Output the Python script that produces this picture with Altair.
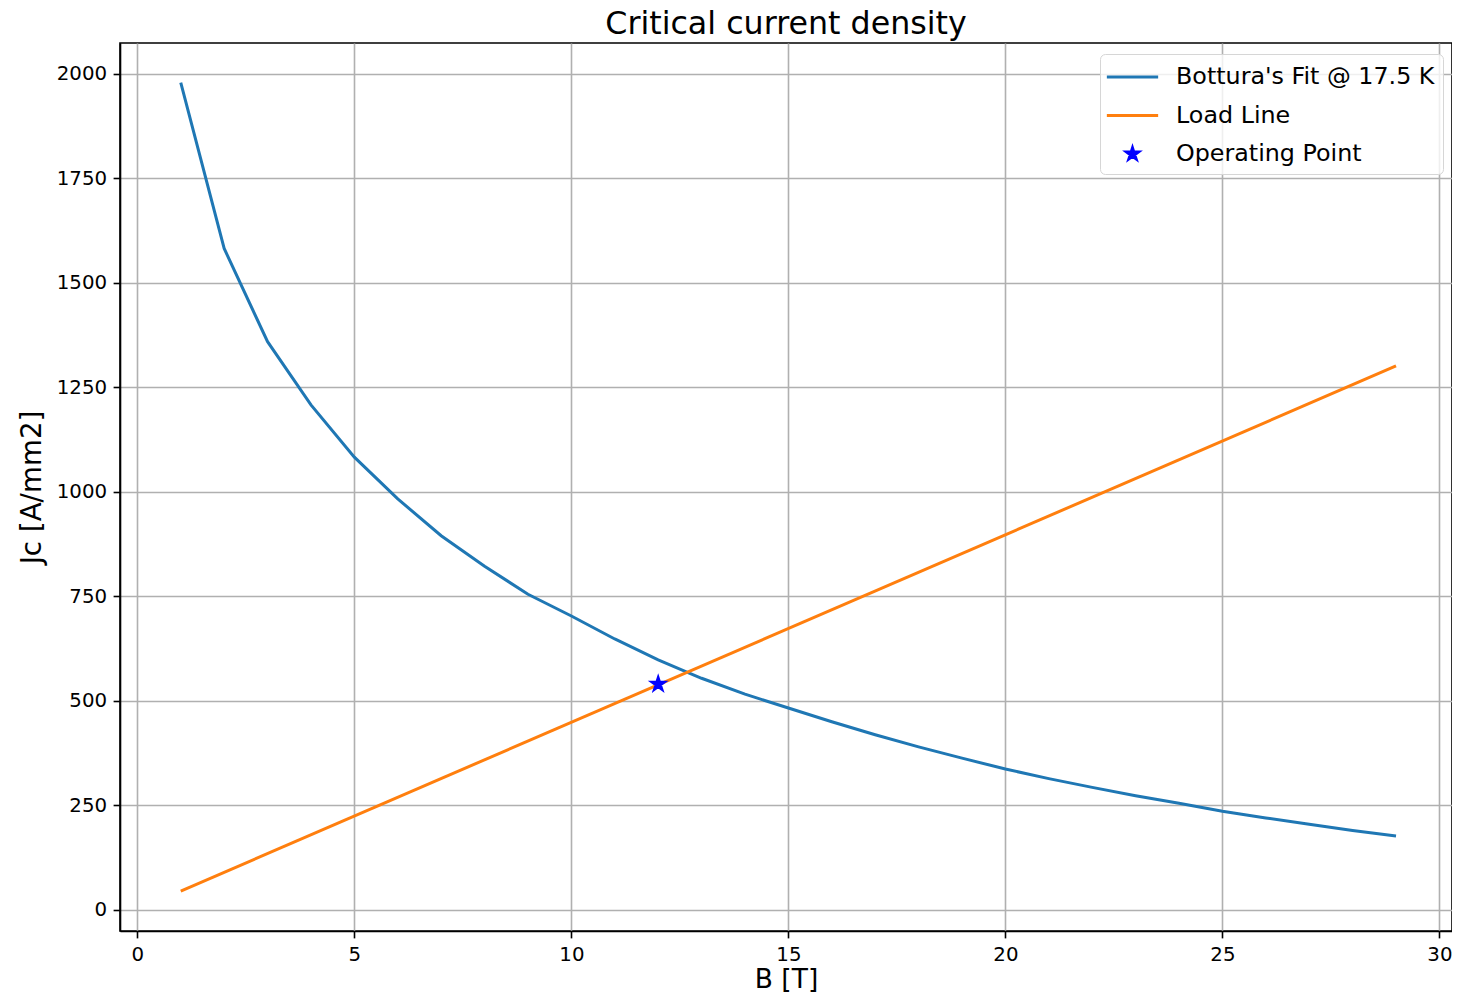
import altair as alt
import pandas as pd

# ---- data ----
fit_B = [1, 2, 3, 4, 5, 6, 7, 8, 9, 10, 11, 12, 13, 14, 15,
         16, 17, 18, 19, 20, 21, 22, 23, 24, 25, 26, 27, 28, 29]
fit_J = [1979, 1582, 1359, 1208, 1083, 983, 895, 822, 755, 703, 648, 598, 554, 516, 483,
         450, 419, 390, 363, 337, 314, 293, 273, 255, 236, 220, 205, 190, 177]
load_B = [1, 29]
load_J = [45, 1301]
op_B = [12]
op_J = [540]

series_names = ["Bottura's Fit @ 17.5 K", "Load Line", "Operating Point"]
series_colors = ["#1f77b4", "#ff7f0e", "#0000ff"]
x_ticks = [0, 5, 10, 15, 20, 25, 30]
y_ticks = [0, 250, 500, 750, 1000, 1250, 1500, 1750, 2000]
x_domain = [-0.4, 30.29]
y_domain = [-50.5, 2073.5]

# legend / marker glyphs (unit paths, scaled by the symbol size)
LINE = "M-1.9,0L1.9,0"
STAR = ("M0,-0.45L0.101,-0.139L0.428,-0.139L0.1635,0.0531L0.2646,0.3641"
        "L0,0.1719L-0.2646,0.3641L-0.1635,0.0531L-0.428,-0.139L-0.101,-0.139Z")

FONT = "DejaVu Sans"

fit_df = pd.DataFrame({"B": fit_B, "J": fit_J, "series": series_names[0]})
load_df = pd.DataFrame({"B": load_B, "J": load_J, "series": series_names[1]})
op_df = pd.DataFrame({"B": op_B, "J": op_J, "series": series_names[2]})

x_enc = alt.X("B:Q",
              scale=alt.Scale(domain=x_domain, nice=False, zero=False),
              axis=alt.Axis(title="B [T]", values=x_ticks, format="d",
                            titlePadding=2, titleFontSize=26.5, labelFlush=False))
y_enc = alt.Y("J:Q",
              scale=alt.Scale(domain=y_domain, nice=False, zero=False),
              axis=alt.Axis(title="Jc [A/mm2]", values=y_ticks, format="d",
                            titlePadding=10, labelFlush=False))

legend = alt.Legend(
    title=None, orient="none", legendX=980, legendY=11,
    padding=8, rowPadding=11.5, labelOffset=28.5, symbolOffset=9.5,
    labelFont=FONT, labelFontSize=23.8, labelColor="black", labelLimit=500,
    symbolSize=729, symbolStrokeWidth=3, symbolOpacity=1,
    fillColor="rgba(255,255,255,0.8)", strokeColor="#d6d6d6", cornerRadius=5,
)

color_enc = alt.Color("series:N",
                      scale=alt.Scale(domain=series_names, range=series_colors),
                      legend=legend)

fit_line = alt.Chart(fit_df).mark_line(strokeWidth=3).encode(
    x=x_enc, y=y_enc, color=color_enc)
load_line = alt.Chart(load_df).mark_line(strokeWidth=3).encode(
    x=x_enc, y=y_enc, color=color_enc)

op_point = alt.Chart(op_df).mark_point(
    size=729, opacity=1, filled=True, stroke=series_colors[2], strokeWidth=3
).encode(
    x=x_enc, y=y_enc,
    color=color_enc,
    shape=alt.Shape("series:N",
                    scale=alt.Scale(domain=series_names, range=[LINE, LINE, STAR]),
                    legend=legend),
)

chart = alt.layer(fit_line, load_line, op_point).properties(
    width=1332, height=888,
    padding={"left": 112, "top": 35, "right": 0, "bottom": 64},
    autosize=alt.AutoSizeParams(type="none"),
    title=alt.TitleParams(text="Critical current density", font=FONT, fontSize=31.7,
                          fontWeight="normal", color="black", anchor="middle",
                          frame="group", offset=2.5),
).configure_view(
    stroke="black", strokeWidth=1.6
).configure_axis(
    grid=True, gridColor="#b0b0b0", gridWidth=1.6,
    domainColor="black", domainWidth=1.6,
    tickColor="black", tickWidth=1.6, tickSize=6.9,
    labelFont=FONT, labelFontSize=19.8, labelColor="black", labelPadding=6.5,
    titleFont=FONT, titleFontSize=27.7, titleFontWeight="normal", titleColor="black",
)

chart.save("out.html", embed_options={"renderer": "svg", "actions": False})
